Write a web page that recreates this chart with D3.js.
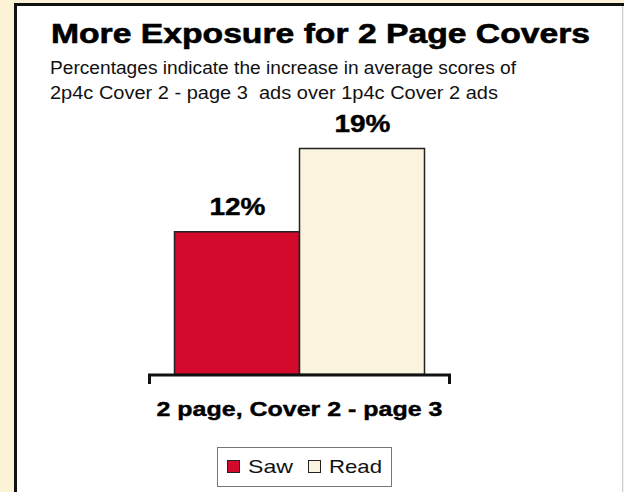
<!DOCTYPE html>
<html><head><meta charset="utf-8">
<script src="https://cdn.jsdelivr.net/npm/d3@7"></script>
<style>html,body{margin:0;padding:0;background:#FCF2D6;}svg{display:block;}</style>
</head><body>
<script>
const categories = ["2 page, Cover 2 - page 3"];
const seriesNames = ["Saw", "Read"];
const sawValues = [12];
const readValues = [19];
const labels = ["12%", "19%"];
const colors = ["#D40A2D", "#FAF3DE"];

const W = 624, H = 492;
const svg = d3.select("body").append("svg").attr("width", W).attr("height", H);
svg.append("rect").attr("width", W).attr("height", H).attr("fill", "#FCF2D6");
// panel
svg.append("rect").attr("x", 15.5).attr("y", 4.5).attr("width", 607).attr("height", 500)
  .attr("fill", "#fff").attr("stroke", "none");
svg.append("line").attr("x1", 15.5).attr("x2", 15.5).attr("y1", 3).attr("y2", H).attr("stroke", "#111").attr("stroke-width", 3);
svg.append("line").attr("x1", 14).attr("x2", W).attr("y1", 4.5).attr("y2", 4.5).attr("stroke", "#111").attr("stroke-width", 3);
svg.append("line").attr("x1", 622.5).attr("x2", 622.5).attr("y1", 6).attr("y2", H).attr("stroke", "#ccc").attr("stroke-width", 1);

const font = "'Liberation Sans', Arial, Helvetica, sans-serif";
svg.append("text").attr("x", 51).attr("y", 42.5).attr("font-family", font).attr("font-weight", "bold")
  .attr("font-size", 28).attr("fill", "#000").attr("stroke", "#000").attr("stroke-width", 0.6)
  .attr("textLength", 539).attr("lengthAdjust", "spacingAndGlyphs")
  .text("More Exposure for 2 Page Covers");
svg.append("text").attr("x", 50).attr("y", 73.5).attr("font-family", font).attr("font-size", 17.5).attr("fill", "#111")
  .attr("textLength", 466).attr("lengthAdjust", "spacingAndGlyphs")
  .text("Percentages indicate the increase in average scores of");
svg.append("text").attr("x", 50).attr("y", 98.5).attr("font-family", font).attr("font-size", 17.5).attr("fill", "#111")
  .attr("textLength", 448).attr("lengthAdjust", "spacingAndGlyphs").attr("xml:space", "preserve")
  .text("2p4c Cover 2 - page 3  ads over 1p4c Cover 2 ads");

const x0 = d3.scaleBand().domain(categories).range([148, 451]);
const x1 = d3.scaleBand().domain(seriesNames).range([26, 276]);
const y = d3.scaleLinear().domain([0, 19]).range([374, 148]);

const data = [
  {s: "Saw", v: sawValues[0], c: colors[0], l: labels[0]},
  {s: "Read", v: readValues[0], c: colors[1], l: labels[1]}
];
const g = svg.append("g").attr("transform", `translate(${x0(categories[0])},0)`);
g.selectAll("rect.bar").data(data).enter().append("rect").attr("class", "bar")
  .attr("x", d => x1(d.s) + 0.5).attr("width", x1.bandwidth())
  .attr("y", d => y(d.v) + 0.5).attr("height", d => y(0) - y(d.v))
  .attr("fill", d => d.c).attr("stroke", "#222").attr("stroke-width", 1.5);
g.selectAll("text.lab").data(data).enter().append("text").attr("class", "lab")
  .attr("x", d => x1(d.s) + x1.bandwidth() / 2 + 1).attr("y", d => y(d.v) - 16)
  .attr("text-anchor", "middle").attr("font-family", font).attr("font-weight", "bold")
  .attr("font-size", 23).attr("stroke", "#000").attr("stroke-width", 0.4)
  .attr("textLength", 56).attr("lengthAdjust", "spacingAndGlyphs").text(d => d.l);

// axis
const axis = d3.axisBottom(x0).tickSize(0).tickFormat(() => "");
const ax = svg.append("g").attr("transform", `translate(0,${y(0)})`).call(axis);
ax.select(".domain").remove();
const x0s = x0.range();
svg.append("path").attr("d", `M${x0s[0] + 1.5},384V${y(0) + 1}H${x0s[1] - 1.5}V384`)
  .attr("fill", "none").attr("stroke", "#111").attr("stroke-width", 3);
svg.append("text").attr("x", x0(categories[0]) + x0.bandwidth() / 2).attr("y", 415.5)
  .attr("text-anchor", "middle").attr("font-family", font).attr("font-weight", "bold").attr("font-size", 20)
  .attr("stroke", "#000").attr("stroke-width", 0.4)
  .attr("textLength", 286).attr("lengthAdjust", "spacingAndGlyphs").text(categories[0]);

// legend
const lg = svg.append("g");
lg.append("rect").attr("x", 217.5).attr("y", 447.5).attr("width", 174).attr("height", 39)
  .attr("fill", "#fff").attr("stroke", "#777").attr("stroke-width", 1);
const items = [{n: "Saw", c: colors[0], x: 227, w: 45}, {n: "Read", c: colors[1], x: 308, w: 53}];
items.forEach(it => {
  lg.append("rect").attr("x", it.x + 0.5).attr("y", 460.5).attr("width", 12).attr("height", 12)
    .attr("fill", it.c).attr("stroke", "#222").attr("stroke-width", 1);
  lg.append("text").attr("x", it.x + 21).attr("y", 473).attr("font-family", font).attr("font-size", 19)
    .attr("fill", "#111").attr("textLength", it.w).attr("lengthAdjust", "spacingAndGlyphs").text(it.n);
});
</script>
</body></html>
